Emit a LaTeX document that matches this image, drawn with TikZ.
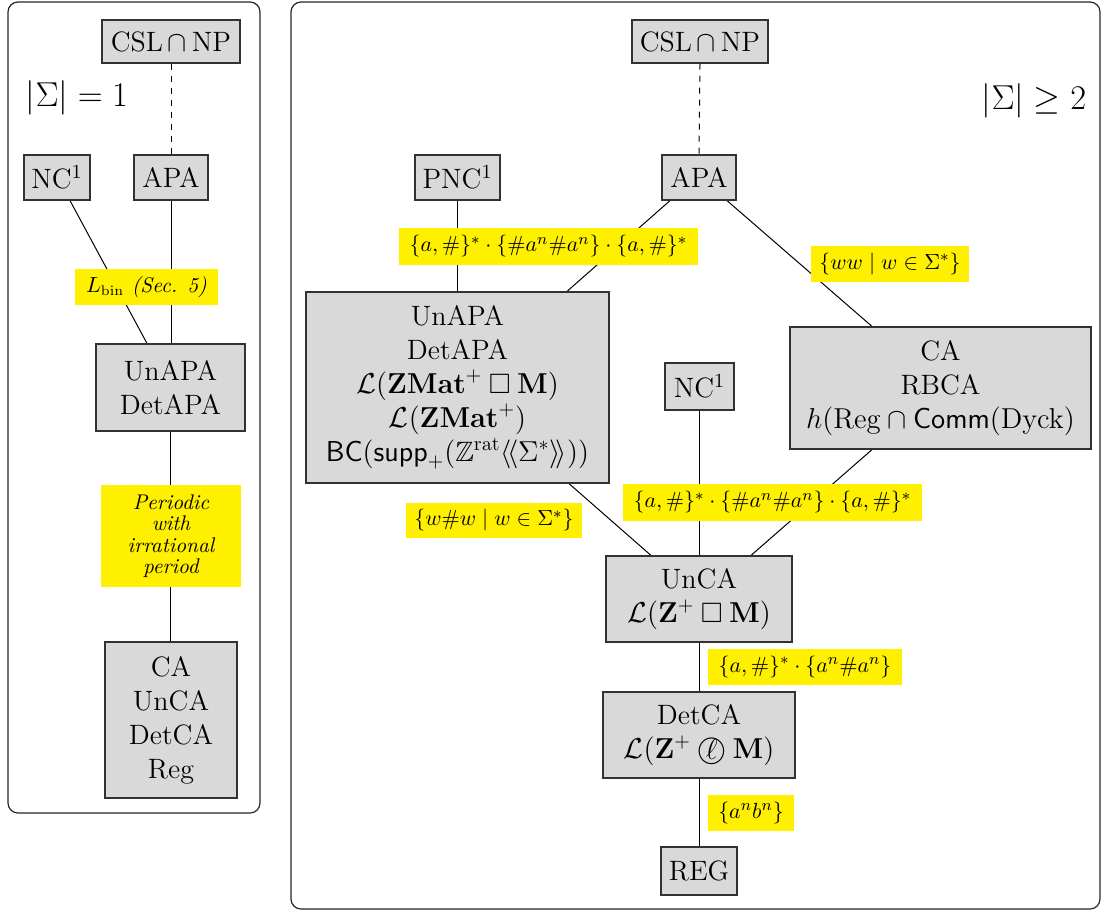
\documentclass[tikz,border=0pt]{standalone}
\usepackage{amsmath,amssymb}
\usetikzlibrary{calc}
\definecolor{boxgray}{RGB}{217,217,217}
\definecolor{lblyellow}{RGB}{255,240,0}
\definecolor{edgegray}{RGB}{50,50,50}
\pgfdeclarelayer{back}
\pgfdeclarelayer{bg}
\pgfsetlayers{back,bg,main}
\newcommand{\circell}{\mathbin{\ooalign{$\bigcirc$\cr\hidewidth\raisebox{-0.1ex}{$\ell$}\hidewidth\cr}}}
\tikzset{
  cls/.style={draw=edgegray, fill=boxgray, line width=0.6pt, inner sep=0pt, align=center,
    font=\fontsize{14}{17}\selectfont},
  lbl/.style={fill=lblyellow, inner sep=0pt, align=center, font=\fontsize{10.8}{13}\selectfont},
  ilbl/.style={fill=lblyellow, inner sep=0pt, align=center, font=\fontsize{10.6}{10.7}\selectfont\itshape},
  conn/.style={draw=black, line width=0.5pt},
  panel/.style={draw=black!85, line width=0.6pt, rounded corners=5pt},
  big/.style={font=\fontsize{17.28}{20}\selectfont}
}
\begin{document}
\begin{tikzpicture}[x=0.5pt,y=-0.5pt]
\useasboundingbox (0,0) rectangle (1101,911);
\begin{pgfonlayer}{back}
\draw[panel] (8,2) rectangle (260,813);
\draw[panel] (291,2) rectangle (1100,909);
\end{pgfonlayer}
% ---------- left panel ----------
\node[cls, minimum width=69pt, minimum height=21.5pt] (cslL) at (171,41.5) {CSL$\,\cap\,$NP};
\node[big] (sigL) at (77,98) {$|\Sigma| = 1$};
\node[cls, minimum width=33pt, minimum height=22.5pt] (ncL) at (57,177.5) {NC$^1$};
\node[cls, minimum width=37pt, minimum height=22.5pt] (apaL) at (171,177.5) {APA};
\node[cls, minimum width=74.5pt, minimum height=43.5pt] (unapaL) at (170.5,387.5) {UnAPA\\DetAPA};
\node[cls, minimum width=66pt, minimum height=78pt] (caL) at (171,720) {CA\\UnCA\\DetCA\\Reg};
\node[ilbl, minimum width=71.5pt, minimum height=18pt] (lbinL) at (146.5,287) {$L_{\mathrm{bin}}$ (Sec. 5)};
\node[ilbl, minimum width=70pt, minimum height=51pt] (perL) at (171,536) {Periodic\\with\\irrational\\period};
\begin{pgfonlayer}{bg}
\draw[conn, dashed] (cslL.south) -- (apaL.north);
\draw[conn] ($(ncL.south)+(13,0)$) -- ($(unapaL.north)+(-23.5,0)$);
\draw[conn] (apaL.south) -- (apaL.south |- unapaL.north);
\draw[conn] (unapaL.south) -- (unapaL.south |- caL.north);
\end{pgfonlayer}
% ---------- right panel ----------
\node[cls, minimum width=68pt, minimum height=21.5pt] (cslR) at (700,41.5) {CSL$\,\cap\,$NP};
\node[big] (sigR) at (1034,101) {$|\Sigma| \geq 2$};
\node[cls, minimum width=42.5pt, minimum height=22.5pt] (pncR) at (457.5,177.5) {PNC$^1$};
\node[cls, minimum width=37pt, minimum height=22.5pt] (apaR) at (699,177.5) {APA};
\node[cls, minimum width=151.5pt, minimum height=95.5pt] (unapaR) at (457.5,387.5)
  {UnAPA\\DetAPA\\$\mathcal{L}(\mathbf{ZMat}^{+}\mathbin{\square}\mathbf{M})$\\$\mathcal{L}(\mathbf{ZMat}^{+})$\\$\mathsf{BC}(\mathsf{supp}_{+}(\mathbb{Z}^{\mathrm{rat}}\langle\!\langle\Sigma^*\rangle\!\rangle))$};
\node[cls, minimum width=150.5pt, minimum height=61pt] (caR) at (940.5,388) {CA\\RBCA\\$h(\mathrm{Reg}\cap\mathsf{Comm}(\mathrm{Dyck})$};
\node[cls, minimum width=34.5pt, minimum height=23.5pt] (ncR) at (699.5,386.5) {NC$^1$};
\node[cls, minimum width=93pt, minimum height=43pt] (uncaR) at (699,599) {UnCA\\$\mathcal{L}(\mathbf{Z}^{+}\mathbin{\square}\mathbf{M})$};
\node[cls, minimum width=96pt, minimum height=43pt] (detcaR) at (699,735) {DetCA\\$\mathcal{L}(\mathbf{Z}^{+}\circell\mathbf{M})$};
\node[cls, minimum width=38pt, minimum height=24pt] (regR) at (699,871) {REG};
\node[lbl, minimum width=149.5pt, minimum height=18.5pt] (l1) at (548.5,246.5) {$\{a,\#\}^*\cdot\{\#a^n\#a^n\}\cdot\{a,\#\}^*$};
\node[lbl, minimum width=79pt, minimum height=18pt] (l2) at (890,264) {$\{ww \mid w\in\Sigma^*\}$};
\node[lbl, minimum width=88pt, minimum height=17.5pt] (l3) at (494,520.5) {$\{w\#w \mid w\in\Sigma^*\}$};
\node[lbl, minimum width=149.5pt, minimum height=18.5pt] (l4) at (772.5,502.5) {$\{a,\#\}^*\cdot\{\#a^n\#a^n\}\cdot\{a,\#\}^*$};
\node[lbl, minimum width=97pt, minimum height=18pt] (l5) at (805,667) {$\{a,\#\}^*\cdot\{a^n\#a^n\}$};
\node[lbl, minimum width=43pt, minimum height=18pt] (l6) at (751,813) {$\{a^nb^n\}$};
\begin{pgfonlayer}{bg}
\draw[conn, dashed] (cslR.south) -- (apaR.north);
\draw[conn] (pncR.south) -- (pncR.south |- unapaR.north);
\draw[conn] ($(apaR.south)+(-29,0)$) -- ($(unapaR.north)+(109.5,0)$);
\draw[conn] ($(apaR.south)+(28,0)$) -- ($(caR.north)+(-68.5,0)$);
\draw[conn] ($(unapaR.south)+(111.5,0)$) -- ($(uncaR.north)+(-48,0)$);
\draw[conn] (ncR.south) -- (ncR.south |- uncaR.north);
\draw[conn] ($(caR.south)+(-68.5,0)$) -- ($(uncaR.north)+(52,0)$);
\draw[conn] (uncaR.south) -- (detcaR.north);
\draw[conn] (detcaR.south) -- (regR.north);
\end{pgfonlayer}
\end{tikzpicture}
\end{document}
